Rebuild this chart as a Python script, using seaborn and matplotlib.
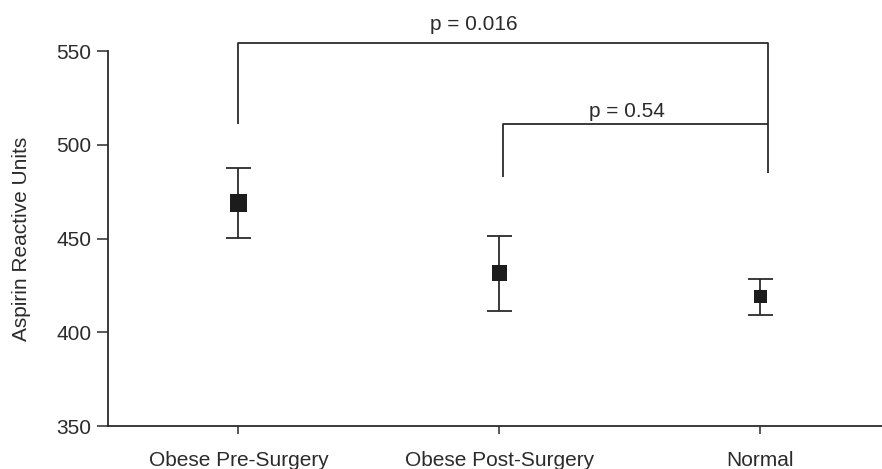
import numpy as np
import pandas as pd
import matplotlib
matplotlib.use("Agg")
import matplotlib.pyplot as plt
import seaborn as sns

groups = ["Obese Pre-Surgery", "Obese Post-Surgery", "Normal"]
means = [468.8, 431.5, 419.0]
errs = [18.7, 19.9, 9.6]
p_labels = ["p = 0.016", "p = 0.54"]

sns.set_style("ticks")
plt.rcParams["font.family"] = ["Liberation Sans", "DejaVu Sans"]
plt.rcParams["font.size"] = 15
ink = "#2b2b2b"

df = pd.DataFrame({"group": groups, "mean": means, "err": errs})

fig = plt.figure(figsize=(8.82, 4.69), dpi=100)
ax = fig.add_axes([108 / 882, 43 / 469, 783 / 882, 375 / 469])

#!error bars first, then the square markers on top
ax.errorbar(df["group"], df["mean"], yerr=df["err"], fmt="none",
            ecolor=ink, elinewidth=1.3, capsize=9, capthick=1.3, zorder=2)
sns.scatterplot(data=df, x="group", y="mean", size="group",
                sizes={groups[0]: 160, groups[1]: 125, groups[2]: 95},
                marker="s", color="#1c1c1c", edgecolor="none",
                legend=False, ax=ax, zorder=3)

ax.set_xlim(-0.5, 2.5)
ax.set_ylim(350, 550)
ax.set_yticks([350, 400, 450, 500, 550])
ax.set_xlabel("")
ax.set_ylabel("Aspirin Reactive Units", color=ink, labelpad=18)
sns.despine(ax=ax)
for s in ["left", "bottom"]:
    ax.spines[s].set_color(ink)
    ax.spines[s].set_linewidth(1.3)
ax.tick_params(axis="y", length=8, width=1.1, color=ink, labelcolor=ink, pad=4)
ax.tick_params(axis="x", length=6, width=1.1, color=ink, labelcolor=ink, pad=12)

#!significance brackets
kw = dict(color=ink, lw=1.3, clip_on=False, solid_capstyle="butt")
ax.plot([0, 0, 2.027, 2.027], [511, 554.4, 554.4, 485], **kw)
ax.plot([1.014, 1.014, 2.027], [482.8, 511.3, 511.3], **kw)
ax.text(0.90, 561.2, p_labels[0], ha="center", va="baseline", color=ink)
ax.text(1.487, 515, p_labels[1], ha="center", va="baseline", color=ink)

fig.savefig("out.png", dpi=100)
